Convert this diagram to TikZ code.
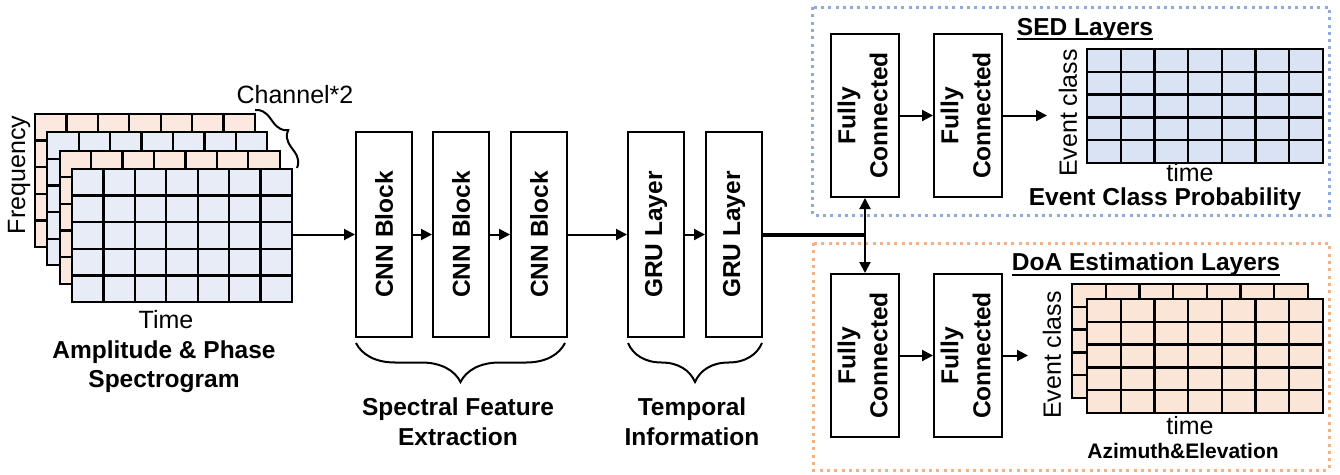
\documentclass[tikz,border=0pt]{standalone}
\usepackage{fontspec}
\setmainfont{Liberation Sans}
\usetikzlibrary{arrows.meta,decorations.pathreplacing,positioning,calc}

\definecolor{specpink}{HTML}{FBE8DF}
\definecolor{specblue}{HTML}{E8ECF7}
\definecolor{sedblue}{HTML}{DAE3F3}
\definecolor{doapink}{HTML}{FBE5D6}
\definecolor{sedline}{HTML}{8FAADC}
\definecolor{doaline}{HTML}{F4B183}

\newcommand{\boldtxt}{\fontsize{24.5}{29.5}\selectfont\bfseries}
\newcommand{\plaintxt}{\fontsize{25}{30}\selectfont}
\newcommand{\smallbold}{\fontsize{21}{25}\selectfont\bfseries}
\newcommand{\fctext}{\rotatebox{90}{\renewcommand{\arraystretch}{1.08}%
  \begin{tabular}{@{}c@{}}Fully\\Connected\end{tabular}}}

% one grid layer: x, y, width, height, fill colour
\newcommand{\gridlayer}[5]{%
  \draw[gridline,fill=#5] (#1,#2) rectangle ({#1+#3},{#2+#4});
  \foreach \c in {1,...,6}
    \draw[gridline] ({#1+\c*#3/7},#2) -- +(0,#4);
  \foreach \r in {1,...,4}
    \draw[gridline] (#1,{#2+\r*#4/5}) -- +(#3,0);
}

\begin{document}
\begin{tikzpicture}[x=1pt,y=-1pt,>={Triangle[length=11pt,width=11pt]},
  gridline/.style={line width=2.3pt},
  layerbox/.style={draw,line width=2pt,inner sep=0pt,minimum width=56pt,minimum height=205pt,font=\boldtxt},
  fcbox/.style={draw,line width=2pt,inner sep=0pt,minimum width=68pt,minimum height=163pt,font=\boldtxt},
  flow/.style={->,line width=2pt},
  caption/.style={inner sep=0pt,font=\boldtxt},
  axislabel/.style={inner sep=0pt,font=\plaintxt},
  groupbrace/.style={decorate,decoration={brace,mirror,amplitude=39pt},line width=2pt},
  sedzone/.style={draw=sedline,line width=3pt,dash pattern=on 3pt off 4.3pt},
  doazone/.style={draw=doaline,line width=3pt,dash pattern=on 3pt off 4.3pt}]
\useasboundingbox (0,0) rectangle (1340,474);

% Spectrogram stack (two channels, amplitude and phase)
  \foreach \i/\col in {0/specpink,1/specblue,2/specpink,3/specblue}
    \gridlayer{35+\i*12.33}{114+\i*18.33}{220}{133}{\col}
  \coordinate (specout) at (292,234.5);
% Spectrogram annotation
  \node[axislabel,rotate=90] (freq) at (19,175) {Frequency};
  \node[axislabel,anchor=base] (spectime) at (166,328) {Time};
  \node[axislabel,anchor=base] (chan) at (295,103) {Channel*2};
  \draw[decorate,decoration={brace,amplitude=15pt},line width=2pt] (255,110) -- (297,168);
  \node[caption,anchor=base] (spectitle) at (164,358) {Amplitude \& Phase};
  \node[caption,anchor=base] (spectitle2) at (164,387) {Spectrogram};

% CNN blocks
  \node[layerbox] (cnn1) at (384,234.5) {\rotatebox{90}{CNN Block}};
  \node[layerbox] (cnn2) at (461,234.5) {\rotatebox{90}{CNN Block}};
  \node[layerbox] (cnn3) at (539,234.5) {\rotatebox{90}{CNN Block}};
% GRU layers
  \node[layerbox] (gru1) at (656,234.5) {\rotatebox{90}{GRU Layer}};
  \node[layerbox] (gru2) at (734,234.5) {\rotatebox{90}{GRU Layer}};
% Flow through the feature extractor
  \draw[flow] (specout) -- (cnn1);
  \draw[flow] (cnn1) -- (cnn2);
  \draw[flow] (cnn2) -- (cnn3);
  \draw[flow] (cnn3) -- (gru1);
  \draw[flow] (gru1) -- (gru2);
% Braces and group labels
  \draw[groupbrace] (356,343) -- (565,343);
  \draw[groupbrace] (628,343) -- (762,343);
  \node[caption,anchor=base] (spectral) at (458,415) {Spectral Feature};
  \node[caption,anchor=base] (spectral2) at (458,445) {Extraction};
  \node[caption,anchor=base] (temporal) at (692,415) {Temporal};
  \node[caption,anchor=base] (temporal2) at (692,445) {Information};

% SED branch
  \draw[sedzone] (812,7) rectangle (1329,215);
  \node[fcbox] (sedfc1) at (865,115.5) {\fctext};
  \node[fcbox] (sedfc2) at (968,115.5) {\fctext};
  \coordinate (sedout) at (1047,115.5);
  \draw[flow] (sedfc1) -- (sedfc2);
  \draw[flow] (sedfc2) -- (sedout);
  \node[caption,anchor=base] (sedtitle) at (1085,35) {SED Layers};
  \draw[line width=2pt] ([yshift=-4pt]sedtitle.base west) -- ([yshift=-4pt]sedtitle.base east);
  \gridlayer{1087}{49}{236}{114}{sedblue}
  \node[axislabel,rotate=90] (sedclass) at (1068,113) {Event class};
  \node[axislabel,anchor=base] (sedtime) at (1190,181) {time};
  \node[caption,anchor=base] (sedprob) at (1165,205) {Event Class Probability};

% DoA branch
  \draw[doazone] (813,243) rectangle (1329,470);
  \node[fcbox] (doafc1) at (865,355.5) {\fctext};
  \node[fcbox] (doafc2) at (968,355.5) {\fctext};
  \coordinate (doaout) at (1028,355.5);
  \draw[flow] (doafc1) -- (doafc2);
  \draw[flow] (doafc2) -- (doaout);
  \node[caption,anchor=base] (doatitle) at (1146,270) {DoA Estimation Layers};
  \draw[line width=2pt] ([yshift=-4.5pt]doatitle.base west) -- ([yshift=-4.5pt]doatitle.base east);
  \gridlayer{1072}{284}{236}{114}{doapink}
  \gridlayer{1087}{299}{236}{114}{doapink}
  \node[axislabel,rotate=90] (doaclass) at (1052,355) {Event class};
  \node[axislabel,anchor=base] (doatime) at (1190,434) {time};
  \node[inner sep=0pt,font=\smallbold,anchor=base] (doaangle) at (1183,458) {Azimuth\&Elevation};

% Split of the GRU output into both branches
  \coordinate (split) at (sedfc1.south |- gru2.east);
  \draw[line width=4pt] (gru2.east) -- ([xshift=1pt]split);
  \draw[<->,line width=2pt] (sedfc1.south) -- (doafc1.north);
\end{tikzpicture}
\end{document}
